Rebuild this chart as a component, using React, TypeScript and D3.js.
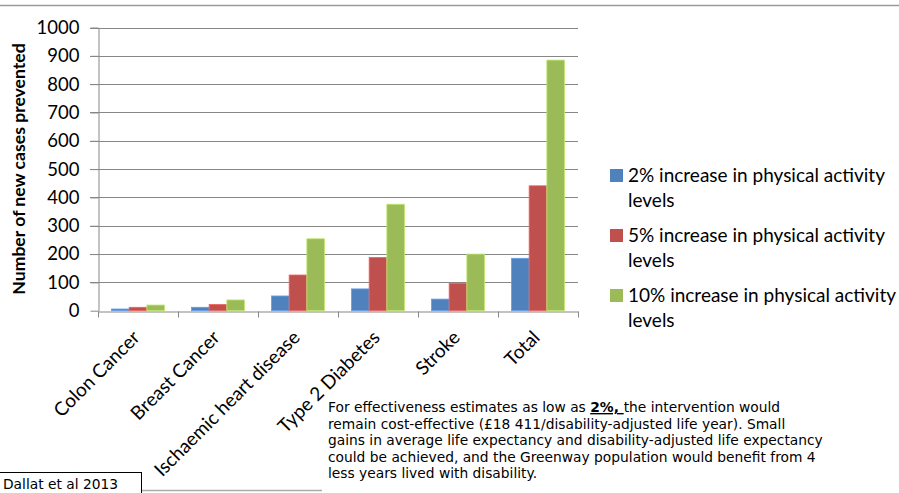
import React from 'react';
import * as d3 from 'd3';

const categories = ['Colon Cancer', 'Breast Cancer', 'Ischaemic heart disease', 'Type 2 Diabetes', 'Stroke', 'Total'];
const seriesNames = [
  '2% increase in physical activity levels',
  '5% increase in physical activity levels',
  '10% increase in physical activity levels',
];
const values2 = [6, 12, 52, 77, 41, 185];
const values5 = [12, 22, 126, 188, 97, 441];
const values10 = [20, 38, 254, 376, 200, 885];
const yTicks = [0, 100, 200, 300, 400, 500, 600, 700, 800, 900, 1000];
const colors = ['#4F81BD', '#C0504D', '#9BBB59'];

const noteLines = [
  ['For effectiveness estimates as low as ', '2%, ', 'the intervention would'],
  ['remain cost-effective (£18 411/disability-adjusted life year). Small'],
  ['gains in average life expectancy and disability-adjusted life expectancy'],
  ['could be achieved, and the Greenway population would benefit from 4'],
  ['less years lived with disability.'],
];

const W = 899;
const H = 493;

const App = () => {
  const svgRef = React.useRef<SVGSVGElement>(null);

  React.useEffect(() => {
    const svg = d3.select(svgRef.current);
    svg.selectAll('*').remove();

    const font = 'Lato, "Liberation Sans", sans-serif';
    const grey = '#878787';

    // plot box
    const left = 98, right = 578, top = 27.5, bottom = 310.7;

    const x = d3.scaleBand().domain(categories).range([left, right]);
    const xs = d3.scaleBand().domain(['0', '1', '2']).range([0, x.bandwidth()]).paddingOuter(0.76);
    const y = d3.scaleLinear().domain([0, 1000]).range([bottom, top]);

    // top rule
    svg.append('line').attr('x1', 0).attr('x2', W).attr('y1', 5.5).attr('y2', 5.5)
      .attr('stroke', '#9a9a9a').attr('stroke-width', 1.5);

    // gridlines
    svg.append('g').selectAll('line').data(yTicks.slice(1)).enter().append('line')
      .attr('x1', left - 8).attr('x2', right)
      .attr('y1', d => Math.round(y(d)) + 0.5).attr('y2', d => Math.round(y(d)) + 0.5)
      .attr('stroke', grey).attr('stroke-width', 1);

    // y axis
    const yAxis = svg.append('g')
      .attr('transform', `translate(${left + 0.5},0)`)
      .call(d3.axisLeft(y).tickValues(yTicks).tickFormat(d3.format('d')).tickSize(8).tickPadding(11).tickSizeOuter(0));
    yAxis.select('.domain').attr('stroke', grey);
    yAxis.selectAll('.tick line').attr('stroke', grey);
    yAxis.selectAll('text').attr('font-family', font).attr('font-size', 18.5).attr('fill', '#000');

    // x axis
    const xAxis = svg.append('g')
      .attr('transform', `translate(0,${Math.round(bottom) + 0.5})`)
      .call(d3.axisBottom(d3.scaleLinear().domain([0, 6]).range([left, right]))
        .ticks(6).tickSize(6).tickFormat(() => '').tickSizeOuter(0));
    xAxis.select('.domain').attr('stroke', grey);
    xAxis.selectAll('.tick line').attr('stroke', grey);

    // bars
    const data = [values2, values5, values10];
    data.forEach((vals, si) => {
      svg.append('g').selectAll('rect').data(vals).enter().append('rect')
        .attr('x', (d, i) => (x(categories[i]) as number) + (xs(String(si)) as number))
        .attr('y', d => y(d))
        .attr('width', xs.bandwidth())
        .attr('height', d => y(0) - y(d))
        .attr('fill', colors[si])
        .attr('stroke', d3.color(colors[si])!.brighter(0.6).toString())
        .attr('stroke-width', 0.8);
    });

    // category labels
    svg.append('g').selectAll('text').data(categories).enter().append('text')
      .attr('transform', d => `translate(${(x(d) as number) + x.bandwidth() / 2 + 3},${bottom + 28}) rotate(-45)`)
      .attr('text-anchor', 'end')
      .attr('font-family', font).attr('font-size', 19)
      .text(d => d);

    // y label
    svg.append('text')
      .attr('transform', `translate(25,169) rotate(-90)`)
      .attr('text-anchor', 'middle')
      .attr('font-family', font).attr('font-size', 17.6).attr('font-weight', 'bold')
      .text('Number of new cases prevented');

    // legend
    const lg = svg.append('g').attr('transform', 'translate(610,168)');
    seriesNames.forEach((name, i) => {
      const g = lg.append('g').attr('transform', `translate(0,${i * 60})`);
      g.append('rect').attr('width', 13).attr('height', 13).attr('y', 1).attr('fill', colors[i]);
      const words = name.split(' ');
      g.append('text').attr('x', 18).attr('y', 14).attr('font-family', font).attr('font-size', 19)
        .text(words.slice(0, -1).join(' '));
      g.append('text').attr('x', 18).attr('y', 39).attr('font-family', font).attr('font-size', 19)
        .text(words[words.length - 1]);
    });

    // note text
    const noteFont = 'Verdana, "DejaVu Sans", sans-serif';
    noteLines.forEach((parts, i) => {
      const t = svg.append('text').attr('x', 328).attr('y', 412 + i * 16.5)
        .attr('font-family', noteFont).attr('font-size', 13.8).attr('fill', '#000');
      parts.forEach((p, j) => {
        const ts = t.append('tspan').text(p);
        if (parts.length > 1 && j === 1) {
          ts.attr('font-weight', 'bold').attr('text-decoration', 'underline');
        }
      });
    });

    // source box
    svg.append('rect').attr('x', -1).attr('y', 472.5).attr('width', 142.5).attr('height', 25)
      .attr('fill', '#fff').attr('stroke', '#000').attr('stroke-width', 1);
    svg.append('text').attr('x', 3).attr('y', 489).attr('font-family', noteFont).attr('font-size', 13.8)
      .text('Dallat et al 2013');
    svg.append('line').attr('x1', 142).attr('x2', 322).attr('y1', 490.5).attr('y2', 490.5)
      .attr('stroke', '#aaa').attr('stroke-width', 1.5);
  }, []);

  return (
    <svg
      ref={svgRef}
      width={W}
      height={H}
      style={{ position: 'absolute', left: 0, top: 0, background: '#fff', overflow: 'hidden' }}
    />
  );
};

export default App;
